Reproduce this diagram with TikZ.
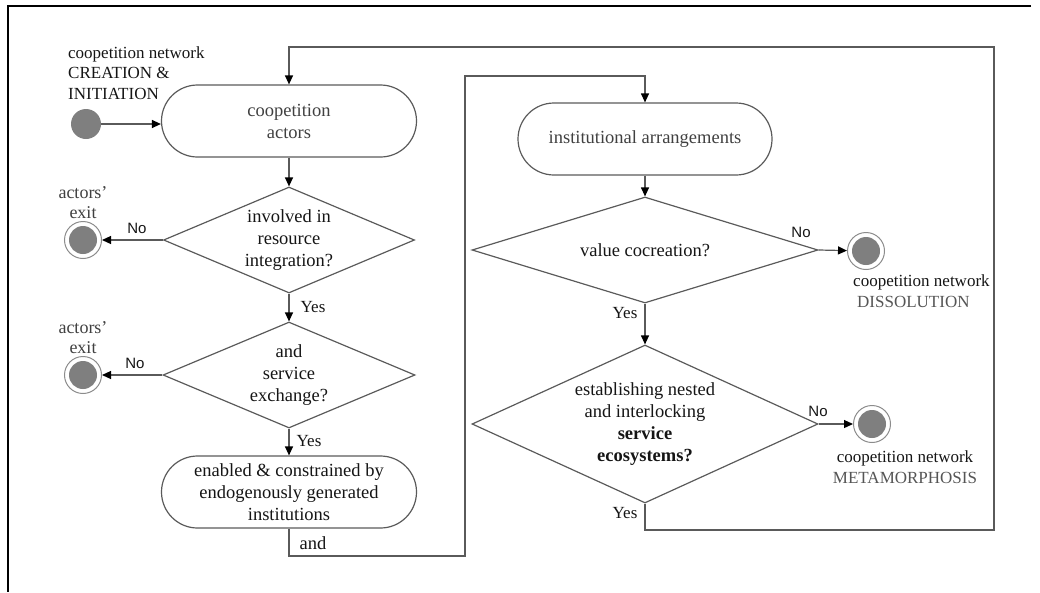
\documentclass[tikz,border=0pt]{standalone}
\usepackage{fontspec}
\setmainfont{Liberation Serif}
\newfontfamily\labelsans{Liberation Sans}
\usetikzlibrary{shapes.geometric,shapes.misc,arrows.meta}

\definecolor{linegray}{HTML}{5A5A5A}
\definecolor{dotgray}{HTML}{7F7F7F}
\definecolor{ringgray}{HTML}{8C8C8C}
\definecolor{softtext}{HTML}{404040}
\definecolor{capgray}{HTML}{555555}
\definecolor{inktext}{HTML}{151515}

\begin{document}
\begin{tikzpicture}[x=1pt,y=1pt,
  every node/.style={font=\fontsize{18.5}{22}\selectfont, inner sep=0pt, text=inktext},
  flow/.style={draw=linegray, line width=1.2pt},
  arr/.style={flow, -{Triangle[length=9pt,width=8pt,color=black]}},
  stadium/.style={rounded rectangle, draw=linegray, line width=1.2pt,
    minimum width=255pt, minimum height=72pt, align=center},
  decision/.style={diamond, draw=linegray, line width=1.2pt, align=center},
  startdot/.style={circle, fill=dotgray, minimum size=30pt},
  enddot/.style={circle, draw=ringgray, line width=1pt, fill=white, minimum size=37pt,
    path picture={\fill[dotgray] (path picture bounding box.center) circle (14pt);}},
  notetext/.style={font=\fontsize{17}{20.5}\selectfont},
  exittext/.style={font=\fontsize{18}{20}\selectfont, text=softtext, align=center},
  yeslabel/.style={font=\fontsize{17}{19}\selectfont},
  nolabel/.style={font=\labelsans\fontsize{15}{18}\selectfont},
]
\useasboundingbox (0,0) rectangle (1040,-592);

% frame
\draw[black, line width=2.5pt] (1031,-6) -- (8,-6) -- (8,-592);

% left column
\node[startdot] (start) at (86,-124) {};
\node[notetext, anchor=west, align=left] (startlbl) at (68,-73)
  {coopetition network\\CREATION \&\\INITIATION};
\node[stadium, text=softtext] (actors) at (289,-121) {coopetition\\actors};
\node[decision, aspect=2.37, minimum width=251pt, minimum height=106pt] (d1) at (289,-240)
  {involved in\\resource\\integration?};
\node[decision, aspect=2.37, minimum width=252pt, minimum height=106pt] (d2) at (289,-375)
  {and\\service\\exchange?};
\node[stadium] (inst3) at (289,-492)
  {enabled \& constrained by\\endogenously generated\\institutions};

\node[enddot] (exit1) at (83,-240) {};
\node[exittext] (exit1lbl) at (83,-203) {actors’\\exit};
\node[enddot] (exit2) at (83,-375) {};
\node[exittext] (exit2lbl) at (83,-338) {actors’\\exit};

% right column
\node[stadium, minimum width=254pt, text=softtext] (inst) at (645,-139)
  {institutional arrangements};
\node[decision, aspect=3.26, minimum width=346pt, minimum height=106pt] (d3) at (645,-250)
  {value cocreation?};
\node[decision, aspect=2.19, minimum width=346pt, minimum height=158pt] (d4) at (645,-424)
  {establishing nested\\and interlocking\\\textbf{service}\\\textbf{ecosystems?}};

\node[enddot] (diss) at (866,-251) {};
\node[notetext, anchor=west, align=left] (disslbl) at (853,-291)
  {coopetition network\\\hspace{4pt}\textcolor{capgray}{DISSOLUTION}};
\node[enddot] (meta) at (872,-424) {};
\node[notetext, align=center] (metalbl) at (905,-467)
  {coopetition network\\\textcolor{capgray}{METAMORPHOSIS}};

% loop corners
\coordinate (andBL) at (465,-556);
\coordinate (andTL) at (465,-76);
\coordinate (loopBR) at (994,-530);
\coordinate (loopTR) at (994,-47);

% connectors
\draw[arr] (start) -- (start -| actors.west);
\draw[arr] (actors.south) -- (d1.north);
\draw[arr] (d1.west) -- (exit1);
\draw[arr] (d1.south) -- (d2.north);
\draw[arr] (d2.west) -- (exit2);
\draw[arr] (d2.south) -- (inst3.north);
\draw[arr] (inst3.south) |- (andBL) -- (andTL) -| (inst.north);
\draw[arr] (inst.south) -- (d3.north);
\draw[arr] (d3.east) -- (diss);
\draw[arr] (d3.south) -- (d4.north);
\draw[arr] (d4.east) -- (meta);
\draw[arr] (d4.south) |- (loopBR) -- (loopTR) -| (actors.north);

% branch labels
\node[nolabel] (no1) at (137,-228) {No};
\node[nolabel] (no2) at (135,-363) {No};
\node[nolabel] (no3) at (801,-232) {No};
\node[nolabel] (no4) at (818,-411) {No};
\node[yeslabel] (yes1) at (313,-307) {Yes};
\node[yeslabel] (yes2) at (309,-441) {Yes};
\node[yeslabel] (yes3) at (625,-313) {Yes};
\node[yeslabel] (yes4) at (625,-513) {Yes};
\node[font=\fontsize{18.5}{22}\selectfont] (andlbl) at (313,-543) {and};
\end{tikzpicture}
\end{document}
